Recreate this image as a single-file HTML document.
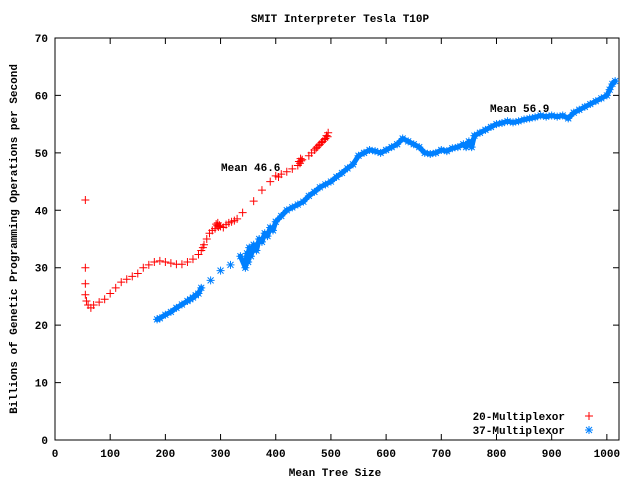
<!DOCTYPE html>
<html><head><meta charset="utf-8"><style>
body{margin:0;background:#fff}
svg{display:block;font-family:"Liberation Mono",monospace;font-weight:bold;font-size:11px}
</style></head><body>
<svg id="c" width="640" height="480">
<text x="340" y="22" text-anchor="middle">SMIT Interpreter Tesla T10P</text>
<text x="335" y="476" text-anchor="middle">Mean Tree Size</text>
<text transform="translate(17,239) rotate(-90)" text-anchor="middle">Billions of Genetic Programming Operations per Second</text>
<rect x="55" y="38" width="564" height="402" fill="none" stroke="#000"/>
<g id="ticks"></g>
<g id="blue"></g>
<g id="red"></g>
<text x="221" y="171">Mean 46.6</text>
<text x="490" y="112">Mean 56.9</text>
<g>
<text x="565" y="420" text-anchor="end">20-Multiplexor</text>
<text x="565" y="434" text-anchor="end">37-Multiplexor</text>
<path d="M585 416h8M589 412v8" stroke="red"/>
<path d="M585 430h8M589 426v8M586 427l6 6M592 427l-6 6" stroke="#0080ff"/>
</g>
</svg>
<script>
const xTicks=[0,100,200,300,400,500,600,700,800,900,1000];
const yTicks=[0,10,20,30,40,50,60,70];
const redX=[55,55,55,55,57,60,65,70,80,90,100,110,120,130,140,150,160,170,180,190,200,210,220,230,240,250,260,265,268,270,275,280,285,290,292,294,295,296,298,300,305,310,315,320,325,330,340,360,375,390,400,405,410,420,430,440,442,444,445,446,448,460,465,470,473,475,478,480,483,485,488,490,492,494,495];
const redY=[41.8,30,27.2,25.3,24.2,23.5,23,23.5,24,24.5,25.5,26.5,27.5,28,28.5,29,30,30.5,31,31.2,31,30.8,30.6,30.6,31,31.5,32.3,33,33.5,34,35,36,36.5,36.8,37.6,37.3,37.8,37.1,37.4,37.2,37,37.5,37.8,38,38.2,38.5,39.6,41.6,43.5,45,46,45.8,46.3,46.7,47.2,47.8,48.5,48.2,49,48.6,48.8,49.5,50,50.5,50.8,51,51.3,51.5,51.8,52,52.3,52.5,53,52.8,53.5];
const blueX=[185,190,200,210,220,230,240,245,250,255,260,265,282,300,318,336,345,348,350,352,355,360,365,370,375,380,385,390,395,400,410,420,430,440,450,460,470,480,490,500,510,520,530,540,550,560,570,580,590,600,610,620,630,640,650,660,670,680,690,700,710,720,730,740,745,750,755,760,770,780,790,800,810,820,830,840,850,860,870,880,890,900,910,920,930,940,950,960,970,980,990,1000,1005,1010,1015];
const blueY=[21,21.2,21.8,22.3,23,23.6,24.2,24.5,24.8,25.2,25.5,26.5,27.8,29.5,30.5,32,30,32.5,31,33.5,32,34,33,35,34.5,36,35.5,37,36.5,38,39,40,40.5,41,41.5,42.5,43.2,44,44.5,45,45.8,46.5,47.3,48,49.5,50,50.5,50.3,50,50.5,51,51.5,52.5,52,51.5,51,50,49.8,50,50.5,50.3,50.8,51,51.5,51,52,51,53,53.5,54,54.5,55,55.2,55.5,55.3,55.5,55.8,56,56.2,56.5,56.3,56.5,56.3,56.5,56,57,57.5,58,58.5,59,59.5,60,61,62,62.5];
const X=v=>55+v*564/1022, Y=v=>440-v*402/70;
const NS="http://www.w3.org/2000/svg";
const tk=document.getElementById('ticks');
function mk(t,a,p){const e=document.createElementNS(NS,t);for(const k in a)e.setAttribute(k,a[k]);p.appendChild(e);return e;}
xTicks.forEach(v=>{const x=X(v);
 const l=mk('path',{d:`M${x} 440v-6M${x} 38v6`,stroke:'#000'},tk);
 
 
 const t=mk('text',{x:x,y:457,'text-anchor':'middle'},tk);t.textContent=v;
 
 });
yTicks.forEach(v=>{const y=Y(v);
 const l=mk('path',{d:`M55 ${y}h6M619 ${y}h-6`,stroke:'#000'},tk);
 
 
 const t=mk('text',{x:48,y:y+4,'text-anchor':'end'},tk);t.textContent=v;
 
 });
const bg=document.getElementById('blue');
let d='';
blueX.forEach((v,i)=>{const gap=i>0?v-blueX[i-1]:99;d+=(gap<16?'L':'M')+X(v)+' '+Y(blueY[i]);});
const bl=mk('path',{d:d,fill:'none',stroke:'#0080ff','stroke-width':5,'stroke-linejoin':'round','stroke-linecap':'round'},bg);


blueX.forEach((v,i)=>{const x=X(v),y=Y(blueY[i]);
 const p=mk('path',{d:`M${x-4} ${y}h8M${x} ${y-4}v8M${x-3} ${y-3}l6 6M${x+3} ${y-3}l-6 6`,stroke:'#0080ff'},bg);
 
 });
const rg=document.getElementById('red');
redX.forEach((v,i)=>{const x=X(v),y=Y(redY[i]);
 const p=mk('path',{d:`M${x-4} ${y}h8M${x} ${y-4}v8`,stroke:'red'},rg);
 
 });
</script>
</body></html>
